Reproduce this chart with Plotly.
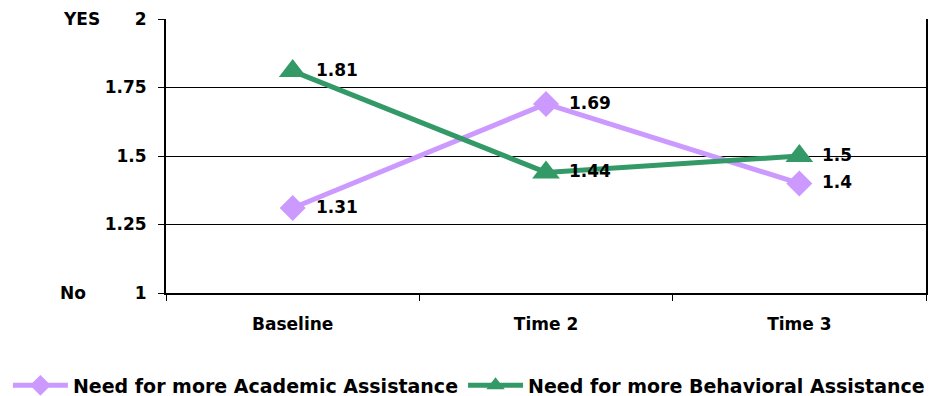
import plotly.graph_objects as go

categories = ["Baseline", "Time 2", "Time 3"]
academic = [1.31, 1.69, 1.4]
behavioral = [1.81, 1.44, 1.5]
academic_labels = ["1.31", "1.69", "1.4"]
behavioral_labels = ["1.81", "1.44", "1.5"]
y_ticks = [1, 1.25, 1.5, 1.75, 2]
y_ticktext = ["1", "1.25", "1.5", "1.75", "2"]

FONT = "DejaVu Sans, Arial, sans-serif"
PURPLE = "#CC99FF"
GREEN = "#339966"
bold = lambda s: dict(family=FONT, size=s, color="black", weight="bold")

fig = go.Figure()
fig.add_trace(go.Scatter(
    x=categories, y=academic, name="Need for more Academic Assistance",
    mode="lines+markers",
    line=dict(color=PURPLE, width=5),
    marker=dict(symbol="diamond", size=20, color=PURPLE),
    cliponaxis=False,
))
fig.add_trace(go.Scatter(
    x=categories, y=behavioral, name="Need for more Behavioral Assistance",
    mode="lines+markers",
    line=dict(color=GREEN, width=5),
    marker=dict(symbol="triangle-up", size=24, color=GREEN),
    cliponaxis=False,
))

annotations = []
for xs, ys, labels in [(categories, academic, academic_labels),
                       (categories, behavioral, behavioral_labels)]:
    for xv, yv, lab in zip(xs, ys, labels):
        annotations.append(dict(
            text=lab, x=xv, y=yv, xref="x", yref="y",
            xanchor="left", yanchor="middle", xshift=21, yshift=1,
            showarrow=False, font=bold(17),
        ))

annotations += [
    dict(text="YES", xref="paper", yref="y", x=0, y=2, xshift=-64,
         xanchor="right", yanchor="middle", showarrow=False, font=bold(17)),
    dict(text="No", xref="paper", yref="y", x=0, y=1, xshift=-78,
         xanchor="right", yanchor="middle", showarrow=False, font=bold(17)),
]

fig.update_layout(
    width=946, height=396,
    margin=dict(l=166, r=20, t=19, b=103, autoexpand=False),
    plot_bgcolor="white", paper_bgcolor="white",
    font=dict(family=FONT, size=17, color="black"),
    showlegend=True,
    legend=dict(
        orientation="h", xref="paper", yref="paper",
        x=-0.208, xanchor="left", y=-0.268, yanchor="top",
        font=bold(19),
        itemwidth=55, tracegroupgap=0, borderwidth=0,
    ),
    xaxis=dict(
        type="category", range=[-0.5, 2.5], tickson="boundaries",
        ticks="outside", ticklen=6, tickcolor="black", tickwidth=1,
        showline=True, linecolor="black", linewidth=2,
        showgrid=False, ticklabelstandoff=15,
        tickfont=bold(17),
    ),
    yaxis=dict(
        range=[1, 2], tickmode="array", tickvals=y_ticks, ticktext=y_ticktext,
        ticks="outside", ticklen=6, tickcolor="black",
        showline=True, linecolor="black", linewidth=2, mirror=True,
        showgrid=True, gridcolor="black", gridwidth=1,
        zeroline=False, ticklabelstandoff=8,
        tickfont=bold(17),
    ),
    annotations=annotations,
)

fig.write_html("out.html")
